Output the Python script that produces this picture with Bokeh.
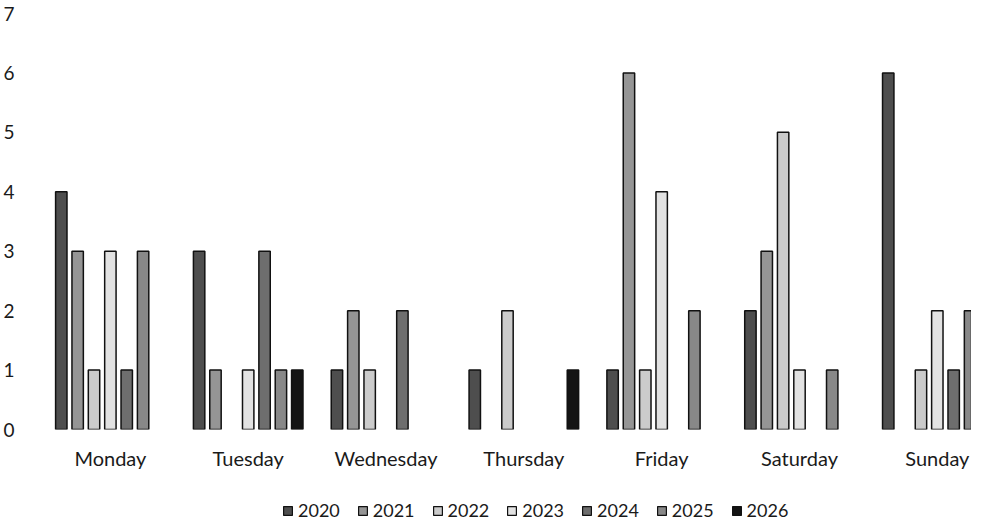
from bokeh.plotting import figure
from bokeh.layouts import column
from bokeh.models import ColumnDataSource, Range1d, FixedTicker, Legend, LegendItem
from bokeh.embed import file_html
from bokeh.resources import INLINE

days = ["Monday", "Tuesday", "Wednesday", "Thursday", "Friday", "Saturday", "Sunday"]
years = ["2020", "2021", "2022", "2023", "2024", "2025", "2026"]
values = {
    "2020": [4, 3, 1, 1, 1, 2, 6],
    "2021": [3, 1, 2, 0, 6, 3, 0],
    "2022": [1, 0, 1, 2, 1, 5, 1],
    "2023": [3, 1, 0, 0, 4, 1, 2],
    "2024": [1, 3, 2, 0, 0, 0, 1],
    "2025": [3, 1, 0, 0, 2, 1, 2],
    "2026": [0, 1, 0, 1, 0, 0, 0],
}
y_ticks = [0, 1, 2, 3, 4, 5, 6, 7]

fills = ["#4e4e4e", "#959595", "#cbcbcb", "#e2e2e2", "#6e6e6e", "#888888", "#141414"]

FONT = "Lato"

p = figure(width=971, height=477, output_backend="svg", toolbar_location=None,
           x_range=Range1d(-0.507, 6.248), y_range=Range1d(0, 7),
           min_border_left=32, min_border_right=0, min_border_top=13, min_border_bottom=48)
p.outline_line_color = None
p.xgrid.grid_line_color = None
p.ygrid.grid_line_color = None

slot = 16.5 / 139.0
bw = 11.5 / 139.0

leg = figure(width=971, height=44, output_backend="svg", toolbar_location=None,
             x_range=Range1d(100, 101), y_range=Range1d(100, 101),
             min_border_left=0, min_border_right=0, min_border_top=0, min_border_bottom=0)
leg.axis.visible = False
leg.grid.visible = False
leg.outline_line_color = None

items = []
for j, yr in enumerate(years):
    xs = [i + (j - 3) * slot for i, v in enumerate(values[yr]) if v > 0]
    tops = [v for v in values[yr] if v > 0]
    src = ColumnDataSource(dict(x=xs, top=tops))
    p.vbar(x="x", top="top", bottom=0, width=bw, source=src,
           fill_color=fills[j], line_color="#111111", line_width=1.5)
    r = leg.vbar(x="x", top="top", bottom=0, width=bw, source=src,
                 fill_color=fills[j], line_color="#111111", line_width=1.2)
    items.append(LegendItem(label=yr, renderers=[r]))

# y axis
p.yaxis.ticker = FixedTicker(ticks=y_ticks)
p.yaxis.axis_line_color = None
p.yaxis.major_tick_line_color = None
p.yaxis.minor_tick_line_color = None
p.yaxis.major_label_standoff = 20
p.yaxis.major_label_text_font = FONT
p.yaxis.major_label_text_font_size = "19px"
p.yaxis.major_label_text_color = "#1a1a1a"

# x axis
p.xaxis.ticker = FixedTicker(ticks=list(range(len(days))))
p.xaxis.major_label_overrides = {i: d for i, d in enumerate(days)}
p.xaxis.axis_line_color = None
p.xaxis.major_tick_line_color = None
p.xaxis.minor_tick_line_color = None
p.xaxis.major_label_standoff = 10
p.xaxis.major_label_text_font = FONT
p.xaxis.major_label_text_font_size = "20px"
p.xaxis.major_label_text_color = "#1a1a1a"

legend = Legend(items=items, orientation="horizontal", location=(242, 0),
                glyph_width=11, glyph_height=11, label_standoff=5, spacing=17,
                label_text_font=FONT, label_text_font_size="18px",
                label_text_color="#1a1a1a", border_line_color=None,
                background_fill_alpha=0, padding=1, margin=0)
leg.add_layout(legend, "center")

layout = column(p, leg, spacing=0)
open("out.html", "w").write(file_html(layout, INLINE))
